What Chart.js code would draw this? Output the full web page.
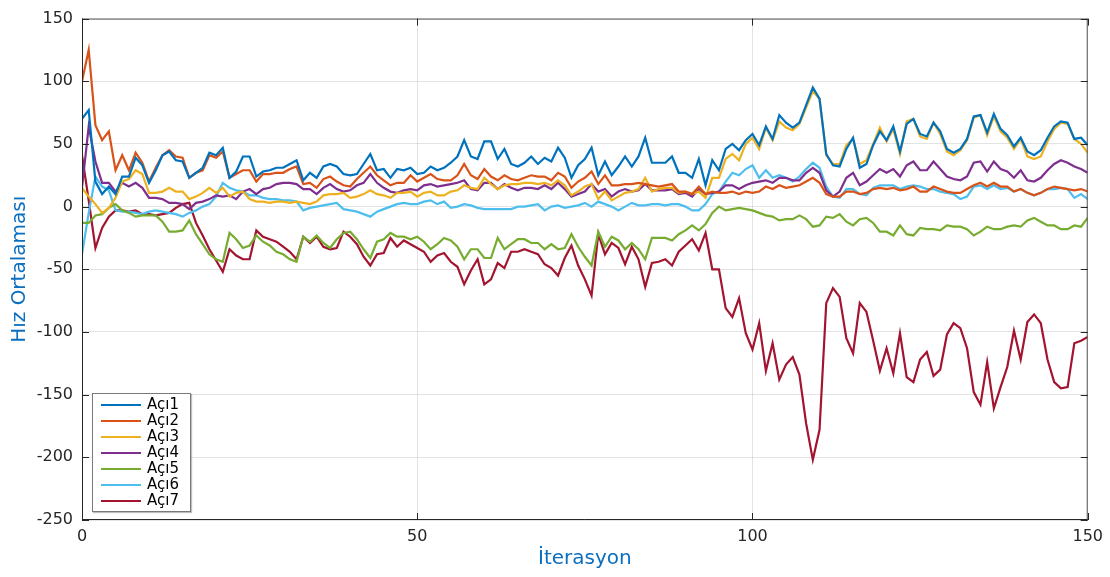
<!DOCTYPE html>
<html>
<head>
<meta charset="utf-8">
<script src="https://cdn.jsdelivr.net/npm/chart.js@4.4.0/dist/chart.umd.min.js"></script>
<style>
html,body{margin:0;padding:0;background:#fff;}
#wrap{position:relative;width:1110px;height:577px;}
#legend{position:absolute;left:92px;top:393px;width:97px;height:117px;border:1px solid #7a7a7a;background:#fff;box-shadow:1px 1px 1px rgba(0,0,0,0.25);font-family:"DejaVu Sans",sans-serif;font-size:15px;color:#000;}
.row{position:absolute;left:0;height:16px;width:97px;}
.row .sw{position:absolute;left:8px;top:7px;width:40px;height:2px;}
.row .tx{position:absolute;left:54px;top:-2px;line-height:18px;white-space:nowrap;}
</style>
</head>
<body>
<div id="wrap">
<canvas id="c" width="1110" height="577"></canvas>
<div id="legend"></div>
</div>
<script>
// ---- Data (iterations 0..150) ----
const seriesNames = ["Açı1","Açı2","Açı3","Açı4","Açı5","Açı6","Açı7"];
const seriesColors = ["#0072BD","#D95319","#EDB120","#7E2F8E","#77AC30","#4DBEEE","#A2142F"];
const yTicks = [-250,-200,-150,-100,-50,0,50,100,150];
const xTicks = [0,50,100,150];

const aci1 = [70,77,20,10,16,10,24,24,39,33,19,29,41,44,37,36,23,27,31,43,41,47,23,28,40,40,24,28,29,31,
31,34,37,21,27,23,32,34,32,26,25,26,34,42,29,30,23,30,29,31,26,27,32,29,31,35,40,53,40,38,
52,52,38,46,34,32,35,40,34,39,36,47,39,23,33,38,47,25,36,25,32,40,32,40,55,35,35,35,40,27,
27,23,38,17,37,29,46,50,45,53,58,49,64,54,73,67,63,67,81,95,86,42,33,32,46,55,31,34,49,60,
53,64,44,66,70,58,56,67,60,46,43,46,54,72,73,59,74,62,57,48,55,44,41,45,55,64,68,67,54,55,49];

const aci2 = [100,125,65,53,60,29,41,29,43,35,20,31,41,45,40,39,23,27,29,41,39,44,23,26,29,29,20,26,26,27,
27,30,32,18,19,15,22,24,20,17,16,22,27,32,25,21,17,19,19,25,20,23,26,22,21,21,25,34,25,22,
30,24,21,25,22,21,23,25,24,24,21,27,24,15,20,23,28,18,25,17,17,18,18,19,18,17,16,17,18,12,
12,10,16,10,12,11,11,12,10,12,11,12,16,14,17,15,16,17,20,23,19,10,8,8,12,12,10,11,14,15,
14,15,13,14,16,12,12,16,14,12,11,11,14,17,19,16,19,16,16,12,14,11,9,11,14,16,15,14,13,14,12];

const aci3 = [15,8,2,-5,-1,7,20,22,29,26,11,11,12,15,12,12,6,8,11,15,11,15,8,11,12,6,4,4,3,4,
4,3,4,3,2,4,9,10,10,11,7,8,10,13,10,9,7,11,11,12,8,11,12,9,9,12,13,17,15,14,
23,18,14,17,18,18,19,19,18,19,17,21,17,9,12,16,18,6,12,5,8,11,12,14,23,12,14,15,15,11,
12,10,12,7,23,23,38,42,37,50,55,46,63,53,68,63,61,66,79,92,86,41,34,34,49,54,34,37,50,63,
52,62,42,68,70,56,54,67,58,44,41,45,53,71,73,57,72,60,55,46,54,40,38,40,52,62,67,66,54,50,43];

const aci4 = [15,64,36,19,19,12,19,16,19,15,7,7,6,3,3,2,-2,3,4,6,9,8,9,6,12,14,10,14,15,18,
19,19,18,14,14,10,15,18,14,12,13,17,19,26,19,15,12,11,13,14,13,17,18,16,17,18,19,21,14,13,
19,19,14,18,15,13,15,15,14,17,14,19,14,8,10,12,18,12,14,8,12,14,12,13,18,13,13,13,14,10,
11,8,14,10,11,12,17,17,14,17,19,20,21,19,23,23,21,21,27,31,27,13,8,12,23,27,17,20,25,30,
27,30,24,33,36,29,29,36,30,24,22,21,24,35,36,28,36,30,28,23,29,21,20,23,29,34,37,35,32,30,27];

const aci5 = [-13,-13,-7,-6,-1,2,-3,-5,-8,-7,-7,-7,-12,-20,-20,-19,-11,-22,-30,-38,-42,-44,-21,-26,-33,-31,-23,-28,-31,-36,
-38,-42,-44,-24,-28,-23,-29,-33,-26,-21,-20,-26,-34,-41,-28,-26,-21,-24,-24,-26,-24,-28,-34,-30,-25,-27,-32,-42,-34,-34,
-41,-41,-25,-34,-30,-26,-26,-29,-29,-34,-30,-34,-33,-22,-32,-40,-47,-20,-32,-24,-27,-34,-29,-34,-42,-25,-25,-25,-27,-22,
-19,-15,-19,-14,-5,0,-3,-2,-1,-2,-3,-5,-7,-8,-11,-10,-10,-7,-10,-16,-15,-8,-9,-6,-12,-15,-10,-9,-13,-20,
-20,-23,-15,-22,-23,-17,-18,-18,-19,-15,-16,-16,-18,-23,-20,-16,-18,-18,-16,-15,-16,-11,-9,-12,-15,-15,-18,-18,-15,-16,-9];

const aci6 = [-38,-5,24,16,13,-3,-4,-4,-5,-6,-4,-3,-4,-5,-6,-8,-5,-3,0,2,8,19,15,13,12,9,9,7,6,6,
5,5,4,-3,-1,0,1,2,3,-2,-3,-4,-6,-8,-4,-2,0,2,3,2,2,4,5,2,4,-1,0,2,1,-1,
-2,-2,-2,-2,-2,0,0,1,2,-3,0,1,-1,0,1,3,0,4,2,0,-3,0,3,1,1,2,2,1,2,2,
0,-3,-3,2,10,12,20,27,25,30,33,23,29,23,25,23,20,24,30,35,31,16,8,7,14,14,10,9,15,17,
17,17,14,16,17,16,14,14,12,11,10,6,8,16,17,14,17,14,15,12,14,11,9,11,14,14,15,14,7,10,6];

const aci7 = [41,5,-33,-17,-8,-3,-3,-4,-3,-6,-6,-7,-6,-5,-1,2,3,-13,-23,-34,-43,-52,-34,-39,-42,-42,-19,-24,-26,-28,
-32,-36,-42,-24,-29,-24,-32,-34,-33,-20,-24,-30,-40,-47,-38,-37,-25,-32,-27,-30,-33,-36,-44,-39,-37,-44,-48,-62,-51,-42,
-62,-58,-45,-49,-36,-36,-34,-36,-38,-46,-49,-55,-41,-31,-47,-58,-71,-22,-38,-29,-33,-46,-32,-42,-64,-45,-44,-42,-47,-36,
-31,-26,-35,-21,-50,-50,-81,-88,-73,-101,-114,-93,-131,-109,-138,-126,-120,-134,-173,-202,-178,-77,-65,-72,-105,-117,-77,-84,-107,-131,
-113,-133,-101,-136,-140,-122,-116,-135,-130,-102,-93,-97,-113,-148,-158,-124,-161,-144,-128,-99,-122,-92,-86,-93,-122,-140,-145,-144,-109,-107,-104];

const allSeries = [aci1,aci2,aci3,aci4,aci5,aci6,aci7];

// ---- Build datasets ----
const datasets = allSeries.map((arr, k) => ({
  label: seriesNames[k],
  data: arr.map((v, i) => ({x: i, y: v})),
  borderColor: seriesColors[k],
  backgroundColor: seriesColors[k],
  borderWidth: 2.2,
  pointRadius: 0,
  tension: 0,
  fill: false
}));

const AXIS = '#262626';

const framePlugin = {
  id: 'frame',
  afterDatasetsDraw(chart) {
    const {ctx, chartArea: a, scales: {x, y}} = chart;
    ctx.save();
    ctx.lineWidth = 1;
    ctx.strokeStyle = '#555';
    ctx.beginPath();
    ctx.moveTo(a.left, a.top + 0.5); ctx.lineTo(a.right, a.top + 0.5);
    ctx.moveTo(a.right - 0.5, a.top); ctx.lineTo(a.right - 0.5, a.bottom);
    ctx.stroke();
    ctx.strokeStyle = AXIS;
    ctx.beginPath();
    ctx.moveTo(a.left + 0.5, a.top); ctx.lineTo(a.left + 0.5, a.bottom);
    ctx.moveTo(a.left, a.bottom - 0.5); ctx.lineTo(a.right, a.bottom - 0.5);
    ctx.stroke();
    const L = 7;
    ctx.beginPath();
    yTicks.forEach(v => {
      const py = Math.round(y.getPixelForValue(v)) + 0.5;
      ctx.moveTo(a.left, py); ctx.lineTo(a.left + L, py);
      ctx.moveTo(a.right, py); ctx.lineTo(a.right - L, py);
    });
    xTicks.forEach(v => {
      const px = Math.round(x.getPixelForValue(v)) + 0.5;
      ctx.moveTo(px, a.bottom); ctx.lineTo(px, a.bottom - L);
      ctx.moveTo(px, a.top); ctx.lineTo(px, a.top + L);
    });
    ctx.stroke();
    ctx.restore();
  }
};

const tickFont = {family: '"DejaVu Sans", sans-serif', size: 16};
const titleFont = {family: '"DejaVu Sans", sans-serif', size: 20};
const gridColor = 'rgba(38,38,38,0.13)';

new Chart(document.getElementById('c'), {
  type: 'line',
  data: {datasets},
  plugins: [framePlugin],
  options: {
    responsive: false,
    animation: false,
    devicePixelRatio: 1,
    layout: {padding: {left: 0, top: 14, right: 21, bottom: 0}},
    plugins: {legend: {display: false}, tooltip: {enabled: false}},
    scales: {
      x: {
        type: 'linear', min: 0, max: 150,
        afterBuildTicks: s => { s.ticks = xTicks.map(v => ({value: v})); },
        afterFit: s => { s.height = 57; },
        grid: {color: gridColor, drawTicks: false},
        border: {display: false},
        ticks: {color: AXIS, font: tickFont, padding: 7, maxRotation: 0},
        title: {display: true, text: 'İterasyon', color: '#0b6fc0', font: titleFont, padding: {top: 0, bottom: 6}}
      },
      y: {
        type: 'linear', min: -250, max: 150,
        afterBuildTicks: s => { s.ticks = yTicks.map(v => ({value: v})); },
        afterFit: s => { s.width = 82; },
        grid: {color: gridColor, drawTicks: false},
        border: {display: false},
        ticks: {color: AXIS, font: tickFont, padding: 9},
        title: {display: true, text: 'Hız Ortalaması', color: '#0b6fc0', font: titleFont, padding: {top: 8, bottom: 0}}
      }
    }
  }
});

// ---- Legend (HTML, built from series arrays) ----
const lg = document.getElementById('legend');
seriesNames.forEach((name, k) => {
  const row = document.createElement('div');
  row.className = 'row';
  row.style.top = (3 + k * 16) + 'px';
  const sw = document.createElement('div');
  sw.className = 'sw';
  sw.style.background = seriesColors[k];
  const tx = document.createElement('div');
  tx.className = 'tx';
  tx.textContent = name;
  row.appendChild(sw); row.appendChild(tx);
  lg.appendChild(row);
});
</script>
</body>
</html>
